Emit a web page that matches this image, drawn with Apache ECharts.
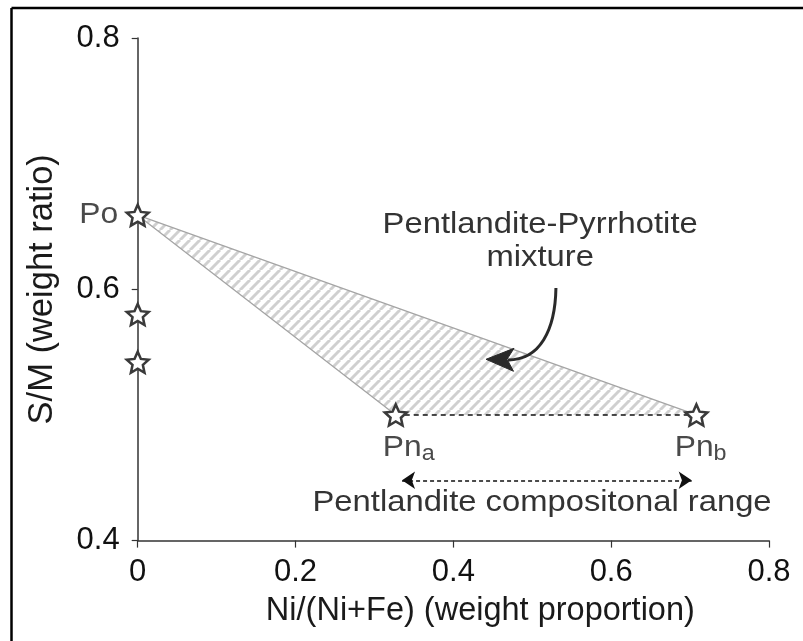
<!DOCTYPE html>
<html>
<head>
<meta charset="utf-8">
<script src="https://cdn.jsdelivr.net/npm/echarts@6/dist/echarts.min.js"></script>
<style>
  html, body { margin: 0; padding: 0; background: #fff; }
  #chart { width: 803px; height: 641px; }
</style>
</head>
<body>
<div id="chart"></div>
<script>
// Pyrrhotite compositions (Po and two more on the Ni-free axis)
const pyrrhotiteX = [0, 0, 0];
const pyrrhotiteY = [0.659, 0.58, 0.542];
// Pentlandite end members Pn_a and Pn_b
const pentlanditeX = [0.327, 0.708];
const pentlanditeY = [0.50, 0.50];
const pentlanditeSubs = ['a', 'b'];
// Double-headed arrow marking the pentlandite compositional range
const rangeArrowX = [0.335, 0.702];
const rangeArrowY = 0.448;
// Curved pointer from the mixture label into the hatched field
const pointerStart = [0.530, 0.601];
const pointerTip = [0.4414, 0.5443];
// Annotation anchors (data coordinates)
const mixtureLines = ['Pentlandite-Pyrrhotite', 'mixture'];
const mixtureAnchors = [[0.51, 0.6508], [0.51, 0.6249]];
const rangeText = 'Pentlandite compositonal range';
const rangeTextAnchor = [0.5124, 0.4299];

const FONT = "'Liberation Sans', Arial, Helvetica, sans-serif";

// Five-pointed outline star used for all compositions
function starPath(inner) {
  const pts = [];
  for (let i = 0; i < 10; i++) {
    const a = -Math.PI / 2 + i * Math.PI / 5;
    const r = i % 2 ? inner : 1;
    pts.push((Math.cos(a) * r * 50 + 50).toFixed(2) + ',' + (Math.sin(a) * r * 50 + 50).toFixed(2));
  }
  return 'path://M' + pts.join('L') + 'Z';
}
const STAR = starPath(0.47);

// Diagonal hatch tile for the mixture field
function hatchTile() {
  const s = 10;
  const c = document.createElement('canvas');
  c.width = s; c.height = s;
  const g = c.getContext('2d');
  g.strokeStyle = '#d0d0d0';
  g.lineWidth = 3;
  for (const k of [-s, 0, s]) {
    g.beginPath();
    g.moveTo(k, s);
    g.lineTo(k + s, 0);
    g.stroke();
  }
  return c;
}
const HATCH = hatchTile();

const po = [pyrrhotiteX[0], pyrrhotiteY[0]];
const pnA = [pentlanditeX[0], pentlanditeY[0]];
const pnB = [pentlanditeX[1], pentlanditeY[1]];

const starData = pyrrhotiteX.map((x, i) => [x, pyrrhotiteY[i]])
  .concat(pentlanditeX.map((x, i) => [x, pentlanditeY[i]]));

const chart = echarts.init(document.getElementById('chart'), null, { renderer: 'canvas' });

chart.setOption({
  animation: false,
  backgroundColor: '#fff',
  grid: { left: 137.7, right: 34, top: 38, bottom: 100.4, containLabel: false },
  xAxis: {
    type: 'value', min: 0, max: 0.8, interval: 0.2,
    name: 'Ni/(Ni+Fe) (weight proportion)',
    nameLocation: 'middle', nameGap: 54,
    nameTextStyle: { fontSize: 32.5, color: '#1a1a1a', fontFamily: FONT, padding: [0, 0, 0, 54] },
    axisLine: { lineStyle: { color: '#333', width: 1.5 } },
    axisTick: { inside: false, length: 7, lineStyle: { color: '#333', width: 1.2 } },
    axisLabel: {
      fontSize: 31, color: '#111', fontFamily: FONT, margin: 16,
      formatter: v => (v === 0 ? '0' : v.toFixed(1))
    },
    splitLine: { show: false }
  },
  yAxis: {
    type: 'value', min: 0.4, max: 0.8, interval: 0.2,
    name: 'S/M (weight ratio)',
    nameLocation: 'middle', nameGap: 78,
    nameTextStyle: { fontSize: 34.5, color: '#1a1a1a', fontFamily: FONT },
    axisLine: { lineStyle: { color: '#333', width: 1.5 } },
    axisTick: { inside: false, length: 6, lineStyle: { color: '#333', width: 1.2 } },
    axisLabel: {
      fontSize: 31, color: '#111', fontFamily: FONT, margin: 18,
      formatter: v => v.toFixed(1)
    },
    splitLine: { show: false }
  },
  series: [
    {
      // hatched pentlandite-pyrrhotite mixture field
      type: 'custom', z: 1, silent: true,
      data: [[0]],
      renderItem: (params, api) => {
        const pts = [po, pnA, pnB].map(p => api.coord(p));
        return {
          type: 'polygon',
          shape: { points: pts },
          style: { fill: { image: HATCH, repeat: 'repeat' }, stroke: null }
        };
      }
    },
    {
      // tie lines from Po to both pentlandite end members
      type: 'line', z: 2, silent: true, symbol: 'none',
      data: [pnA, po, pnB],
      lineStyle: { color: '#a5a5a5', width: 1.3 }
    },
    {
      // pentlandite solid-solution join
      type: 'line', z: 2, silent: true, symbol: 'none',
      data: [pnA, pnB],
      lineStyle: { color: '#111', width: 1.5, type: [5, 4] }
    },
    {
      type: 'lines', coordinateSystem: 'cartesian2d', z: 2, silent: true,
      symbol: ['arrow', 'arrow'], symbolSize: 13,
      data: [{ coords: [[rangeArrowX[0], rangeArrowY], [rangeArrowX[1], rangeArrowY]] }],
      lineStyle: { color: '#111', width: 1.5, type: [4, 3], opacity: 1 }
    },
    {
      type: 'scatter', z: 5, silent: true,
      symbol: STAR, symbolSize: [22, 21],
      data: starData,
      itemStyle: { color: '#fff', borderColor: '#3a3a3a', borderWidth: 2.5, opacity: 1 }
    }
  ]
});

// Annotations placed from data coordinates
const toPx = p => chart.convertToPixel({ gridIndex: 0 }, p);
const measure = (() => {
  const g = document.createElement('canvas').getContext('2d');
  return (text, size) => { g.font = size + 'px ' + FONT; return g.measureText(text).width; };
})();

function label(x, y, text, size, fill, align, sx) {
  return {
    type: 'text', x: x, y: y, scaleX: sx || 1, z: 10, silent: true,
    style: {
      text: text, fontSize: size, fontFamily: FONT, fill: fill,
      align: align, textAlign: align, verticalAlign: 'middle', textVerticalAlign: 'middle'
    }
  };
}

const graphics = [];
// page frame
graphics.push({ type: 'line', z: 20, shape: { x1: 11.5, y1: 8, x2: 803, y2: 8 }, style: { stroke: '#000', lineWidth: 2.5 } });
graphics.push({ type: 'line', z: 20, shape: { x1: 11.5, y1: 8, x2: 11.5, y2: 641 }, style: { stroke: '#000', lineWidth: 2.5 } });

// Po label
const poPx = toPx(po);
graphics.push(label(poPx[0] - 19.5, poPx[1], 'Po', 30, '#4a4a4a', 'right', 1.06));

// Pn labels with subscripts
const pnOffsets = [-13, -21.7];
pentlanditeX.forEach((x, i) => {
  const p = toPx([x, pentlanditeY[i]]);
  const left = p[0] + pnOffsets[i];
  const w = measure('Pn', 30) * 1.06;
  graphics.push(label(left, p[1] + 33, 'Pn', 30, '#4a4a4a', 'left', 1.06));
  graphics.push(label(left + w, p[1] + 38.5, pentlanditeSubs[i], 22, '#4a4a4a', 'left', 1.06));
});

// mixture label
mixtureLines.forEach((t, i) => {
  const p = toPx(mixtureAnchors[i]);
  graphics.push(label(p[0], p[1], t, 29, '#333', 'center', 1.13));
});

// compositional range label
const rp = toPx(rangeTextAnchor);
graphics.push(label(rp[0], rp[1], rangeText, 29, '#333', 'center', 1.13));

// curved pointer with filled arrowhead
const s = toPx(pointerStart);
const t = toPx(pointerTip);
const ex = t[0] + 22, ey = t[1] + 0.7;
graphics.push({
  type: 'bezierCurve', z: 10, silent: true,
  shape: { x1: s[0], y1: s[1], cpx1: s[0] - 0.7, cpy1: s[1] + 42, cpx2: ex + 32, cpy2: ey, x2: ex, y2: ey },
  style: { stroke: '#2a2a2a', lineWidth: 3, fill: null }
});
graphics.push({
  type: 'polygon', z: 11, silent: true,
  shape: { points: [[t[0], t[1]], [t[0] + 28, t[1] - 11], [t[0] + 21, t[1]], [t[0] + 27.5, t[1] + 12]] },
  style: { fill: '#2a2a2a', stroke: '#2a2a2a', lineWidth: 1 }
});

chart.setOption({ graphic: graphics });
</script>
</body>
</html>
